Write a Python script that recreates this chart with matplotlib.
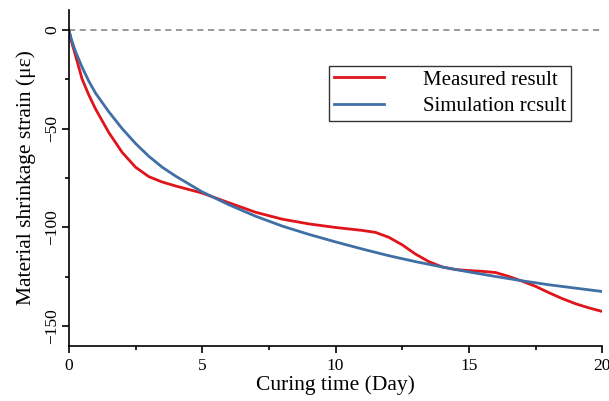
import matplotlib
matplotlib.use("Agg")
import matplotlib.pyplot as plt
from matplotlib.ticker import MultipleLocator

plt.rcParams['font.family'] = ['Liberation Serif', 'DejaVu Serif']
plt.rcParams['axes.unicode_minus'] = True

# curing time (day) and strain (micro-strain)
t_meas = [0, 0.1, 0.25, 0.5, 0.75, 1, 1.5, 2, 2.5, 3, 3.5, 4, 5, 6, 7, 8, 9,
          10, 11, 11.5, 12, 12.5, 13, 13.5, 14, 14.5, 15, 15.5, 16, 16.5, 17,
          17.5, 18, 18.5, 19, 19.5, 20]
measured = [0, -6, -13, -25, -33, -40, -52, -62, -69.5, -74.3, -77, -79,
            -82.6, -87.5, -92.3, -95.8, -98.2, -100, -101.5, -102.5, -105,
            -108.8, -113.5, -117.3, -120, -121.3, -121.8, -122.2, -122.8,
            -124.8, -127.2, -129.8, -133, -136, -138.6, -140.7, -142.5]

t_sim = [0, 0.1, 0.25, 0.5, 0.75, 1, 1.5, 2, 2.5, 3, 3.5, 4, 5, 6, 7, 8, 9,
         10, 11, 12, 13, 14, 15, 16, 17, 18, 19, 20]
simulated = [0, -5, -11, -19, -26, -32, -41.5, -50, -57.5, -64, -69.5, -74,
             -82, -88.5, -94.3, -99.3, -103.5, -107.3, -110.9, -114.3, -117.3,
             -120, -122.5, -124.8, -127, -129, -130.7, -132.4]

fig = plt.figure(figsize=(6.09, 4.01), dpi=100)
ax = fig.add_axes([0.113, 0.137, 0.876, 0.838])

ax.axhline(0, color='#7f7f7f', lw=1.1, ls=(0, (4, 3)), zorder=1)
ax.plot(t_meas, measured, color='#e0141b', lw=2.0, label='Measured result')
ax.plot(t_sim, simulated, color='#3f6fa5', lw=2.0, label='Simulation rcsult')

ax.set_xlim(0, 20)
ax.set_ylim(-160, 10)
ax.xaxis.set_major_locator(MultipleLocator(5))
ax.xaxis.set_minor_locator(MultipleLocator(2.5))
ax.yaxis.set_major_locator(MultipleLocator(50))
ax.yaxis.set_minor_locator(MultipleLocator(25))
ax.set_yticks([0, -50, -100, -150])

for s in ['top', 'right']:
    ax.spines[s].set_visible(False)
for s in ['left', 'bottom']:
    ax.spines[s].set_linewidth(1.2)

ax.tick_params(axis='both', which='major', direction='out', length=5,
               width=1.2, labelsize=12.5)
ax.tick_params(axis='y', which='major', pad=1)
ax.tick_params(axis='both', which='minor', direction='out', length=3,
               width=1.2)
for lab in ax.get_yticklabels():
    lab.set_rotation(90)
    lab.set_va('center')

ax.set_xlabel('Curing time (Day)', fontsize=15.5, labelpad=1)
ax.set_ylabel('Material shrinkage strain (\u03bc\u03b5)', fontsize=15.5, labelpad=6)

leg = ax.legend(loc='upper right', bbox_to_anchor=(0.96, 0.865), fontsize=15,
                frameon=True, fancybox=False, edgecolor='black',
                handlelength=2.4, handletextpad=1.9, borderpad=0.2,
                labelspacing=0.35)
leg.get_frame().set_linewidth(1.0)
for txt in leg.get_texts():
    txt.set_ha('right')

fig.savefig('out.png', dpi=100)
